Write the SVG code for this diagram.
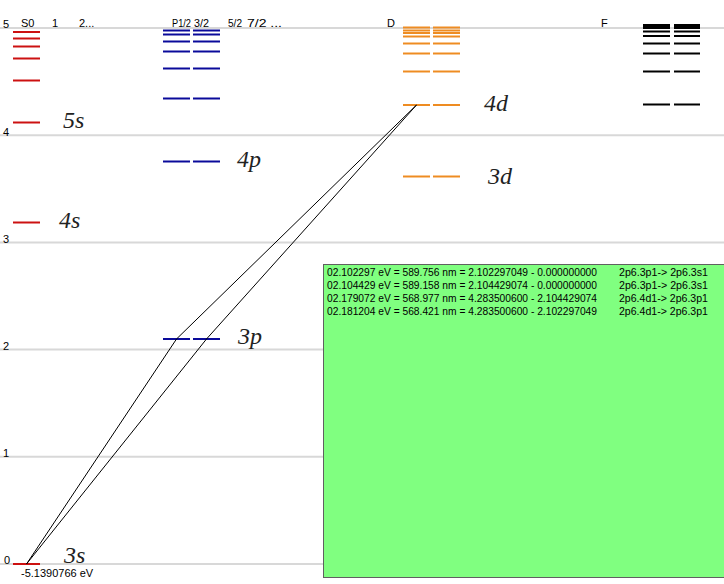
<svg xmlns="http://www.w3.org/2000/svg" width="724" height="584" viewBox="0 0 724 584">
<style>
.grid{stroke:#d8d8d8;stroke-width:2}
.ax{font-family:"Liberation Sans",Arial,sans-serif;font-size:11px;fill:#000}
.hd{font-family:"Liberation Sans",Arial,sans-serif;font-size:11px;fill:#000}
.lbl{font-family:"Liberation Serif","Times New Roman",serif;font-style:italic;font-size:24px;fill:#222}
.s line{stroke:#cc1111;stroke-width:2}
.p line{stroke:#0a0a9a;stroke-width:2}
.d line{stroke:#ee8c22;stroke-width:2}
.f line{stroke:#000;stroke-width:2}
.tr{stroke:#000;stroke-width:1;fill:none}
.box{font-family:"Liberation Sans",Arial,sans-serif;font-size:10.5px;fill:#000}
</style>
<rect width="724" height="584" fill="#fff"/>
<g id="grid">
<line class="grid" x1="0" y1="28" x2="724" y2="28"/>
<line class="grid" x1="0" y1="135.2" x2="724" y2="135.2"/>
<line class="grid" x1="0" y1="242.4" x2="724" y2="242.4"/>
<line class="grid" x1="0" y1="349.6" x2="724" y2="349.6"/>
<line class="grid" x1="0" y1="456.8" x2="724" y2="456.8"/>
<line class="grid" x1="0" y1="564" x2="724" y2="564"/>
</g>
<g id="axis">
<text class="ax" x="3" y="28">5</text>
<text class="ax" x="3" y="136">4</text>
<text class="ax" x="3" y="243">3</text>
<text class="ax" x="3" y="350">2</text>
<text class="ax" x="3" y="457">1</text>
<text class="ax" x="4" y="564">0</text>
<text class="ax" x="21" y="577" font-size="10.5">-5.1390766 eV</text>
</g>
<g id="headers">
<text class="hd" x="21" y="27">S0</text>
<text class="hd" x="52" y="27">1</text>
<text class="hd" x="79" y="27">2...</text>
<text class="hd" x="172" y="27" textLength="19" lengthAdjust="spacingAndGlyphs">P1/2</text>
<text class="hd" x="194" y="27" textLength="15" lengthAdjust="spacingAndGlyphs">3/2</text>
<text class="hd" x="228" y="27" textLength="14" lengthAdjust="spacingAndGlyphs">5/2</text>
<text class="hd" x="247" y="27" textLength="35" lengthAdjust="spacingAndGlyphs">7/2 ...</text>
<text class="hd" x="387" y="27">D</text>
<text class="hd" x="601" y="27">F</text>
</g>
<g id="S" class="s">
<line x1="13" y1="32" x2="40" y2="32"/>
<line x1="13" y1="38.5" x2="40" y2="38.5"/>
<line x1="13" y1="46.5" x2="40" y2="46.5"/>
<line x1="13" y1="58.5" x2="40" y2="58.5"/>
<line x1="13" y1="80.5" x2="40" y2="80.5"/>
<line x1="13" y1="122.5" x2="40" y2="122.5"/>
<line x1="13" y1="222.5" x2="40" y2="222.5"/>
<line x1="13" y1="564" x2="40" y2="564"/>
</g>
<g id="P" class="p">
<line x1="163" y1="30.5" x2="190" y2="30.5"/><line x1="193" y1="30.5" x2="220" y2="30.5"/>
<line x1="163" y1="34.5" x2="190" y2="34.5"/><line x1="193" y1="34.5" x2="220" y2="34.5"/>
<line x1="163" y1="41.5" x2="190" y2="41.5"/><line x1="193" y1="41.5" x2="220" y2="41.5"/>
<line x1="163" y1="51.5" x2="190" y2="51.5"/><line x1="193" y1="51.5" x2="220" y2="51.5"/>
<line x1="163" y1="68.5" x2="190" y2="68.5"/><line x1="193" y1="68.5" x2="220" y2="68.5"/>
<line x1="163" y1="98.5" x2="190" y2="98.5"/><line x1="193" y1="98.5" x2="220" y2="98.5"/>
<line x1="163" y1="161.5" x2="190" y2="161.5"/><line x1="193" y1="161.5" x2="220" y2="161.5"/>
<line x1="163" y1="339" x2="190" y2="339"/><line x1="193" y1="339" x2="220" y2="339"/>
</g>
<g id="D" class="d">
<line x1="403" y1="27.5" x2="430" y2="27.5"/><line x1="433" y1="27.5" x2="460" y2="27.5"/>
<line x1="403" y1="30.5" x2="430" y2="30.5"/><line x1="433" y1="30.5" x2="460" y2="30.5"/>
<line x1="403" y1="33" x2="430" y2="33"/><line x1="433" y1="33" x2="460" y2="33"/>
<line x1="403" y1="36.5" x2="430" y2="36.5"/><line x1="433" y1="36.5" x2="460" y2="36.5"/>
<line x1="403" y1="43.5" x2="430" y2="43.5"/><line x1="433" y1="43.5" x2="460" y2="43.5"/>
<line x1="403" y1="53.5" x2="430" y2="53.5"/><line x1="433" y1="53.5" x2="460" y2="53.5"/>
<line x1="403" y1="71.5" x2="430" y2="71.5"/><line x1="433" y1="71.5" x2="460" y2="71.5"/>
<line x1="403" y1="105" x2="430" y2="105"/><line x1="433" y1="105" x2="460" y2="105"/>
<line x1="403" y1="176.5" x2="430" y2="176.5"/><line x1="433" y1="176.5" x2="460" y2="176.5"/>
</g>
<g id="F" class="f">
<line x1="643" y1="25" x2="670" y2="25"/><line x1="674" y1="25" x2="700" y2="25"/>
<line x1="643" y1="26.5" x2="670" y2="26.5"/><line x1="674" y1="26.5" x2="700" y2="26.5"/>
<line x1="643" y1="28" x2="670" y2="28"/><line x1="674" y1="28" x2="700" y2="28"/>
<line x1="643" y1="31.5" x2="670" y2="31.5"/><line x1="674" y1="31.5" x2="700" y2="31.5"/>
<line x1="643" y1="36" x2="670" y2="36"/><line x1="674" y1="36" x2="700" y2="36"/>
<line x1="643" y1="43.5" x2="670" y2="43.5"/><line x1="674" y1="43.5" x2="700" y2="43.5"/>
<line x1="643" y1="53.5" x2="670" y2="53.5"/><line x1="674" y1="53.5" x2="700" y2="53.5"/>
<line x1="643" y1="71.5" x2="670" y2="71.5"/><line x1="674" y1="71.5" x2="700" y2="71.5"/>
<line x1="643" y1="104.5" x2="670" y2="104.5"/><line x1="674" y1="104.5" x2="700" y2="104.5"/>
</g>
<g id="labels">
<text class="lbl" x="63" y="128">5s</text>
<text class="lbl" x="59" y="228">4s</text>
<text class="lbl" x="64" y="563">3s</text>
<text class="lbl" x="237" y="167">4p</text>
<text class="lbl" x="238" y="344">3p</text>
<text class="lbl" x="484" y="111">4d</text>
<text class="lbl" x="488" y="184">3d</text>
</g>
<g id="connectors">
<line class="tr" x1="26.5" y1="564" x2="176.5" y2="339"/>
<line class="tr" x1="26.5" y1="564" x2="206.5" y2="339"/>
<line class="tr" x1="176.5" y1="339" x2="416.5" y2="105"/>
<line class="tr" x1="206.5" y1="339" x2="416.5" y2="105"/>
</g>
<g id="infobox">
<rect x="323.5" y="264.5" width="402" height="313" fill="#80ff80" stroke="#606060" stroke-width="1"/>
<text class="box" x="327" y="275.5" textLength="270" lengthAdjust="spacingAndGlyphs">02.102297 eV = 589.756 nm = 2.102297049 - 0.000000000</text>
<text class="box" x="619" y="275.5" textLength="89" lengthAdjust="spacingAndGlyphs">2p6.3p1-&gt; 2p6.3s1</text>
<text class="box" x="327" y="288.5" textLength="270" lengthAdjust="spacingAndGlyphs">02.104429 eV = 589.158 nm = 2.104429074 - 0.000000000</text>
<text class="box" x="619" y="288.5" textLength="89" lengthAdjust="spacingAndGlyphs">2p6.3p1-&gt; 2p6.3s1</text>
<text class="box" x="327" y="301.5" textLength="270" lengthAdjust="spacingAndGlyphs">02.179072 eV = 568.977 nm = 4.283500600 - 2.104429074</text>
<text class="box" x="619" y="301.5" textLength="89" lengthAdjust="spacingAndGlyphs">2p6.4d1-&gt; 2p6.3p1</text>
<text class="box" x="327" y="314.5" textLength="270" lengthAdjust="spacingAndGlyphs">02.181204 eV = 568.421 nm = 4.283500600 - 2.102297049</text>
<text class="box" x="619" y="314.5" textLength="89" lengthAdjust="spacingAndGlyphs">2p6.4d1-&gt; 2p6.3p1</text>
</g>
</svg>
